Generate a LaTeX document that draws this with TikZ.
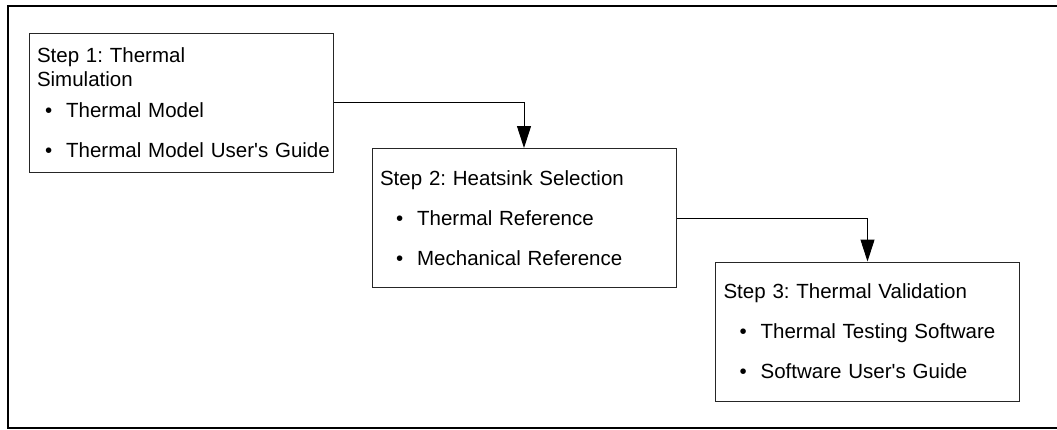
\documentclass[tikz,border=0pt]{standalone}
\usepackage{fontspec}
\setmainfont{Liberation Sans}[Ligatures=TeXOff]
\usepackage{tikz}
\usetikzlibrary{arrows.meta}

\newcommand{\stepitem}[2][16pt]{\mbox{\hspace*{#1}\textbullet\hspace*{14pt}#2}}

\begin{document}
\begin{tikzpicture}[x=1pt,y=-1pt]
\useasboundingbox (0,0) rectangle (1057,429);
\begin{scope}[>={Triangle[width=14pt,length=22pt]},
  stepbox/.style={draw=black!85,line width=1pt,minimum width=304pt,minimum height=139pt,
    inner xsep=8pt,text width=288pt,align=left,
    font=\fontsize{20.5}{24.5}\selectfont\frenchspacing}]

    % outer frame
    \draw[line width=2.5pt] (8,6) rectangle (1062,428);

    \node[stepbox] (step1) at (181,102.5) {Step 1: Thermal\\Simulation\\[6pt]
      \stepitem[8pt]{Thermal Model}\\[15.5pt]
      \stepitem[8pt]{Thermal Model User's Guide}};

    \node[stepbox] (step2) at (524,218) {Step 2: Heatsink Selection\\[15.5pt]
      \stepitem{Thermal Reference}\\[15.5pt]
      \stepitem{Mechanical Reference}};

    \node[stepbox] (step3) at (867.5,331.5) {Step 3: Thermal Validation\\[15.5pt]
      \stepitem{Thermal Testing Software}\\[15.5pt]
      \stepitem{Software User's Guide}};

    \draw[->,line width=1pt] (step1) -| (step2);
    \draw[->,line width=1pt] (step2) -| (step3);

\end{scope}
\end{tikzpicture}
\end{document}
